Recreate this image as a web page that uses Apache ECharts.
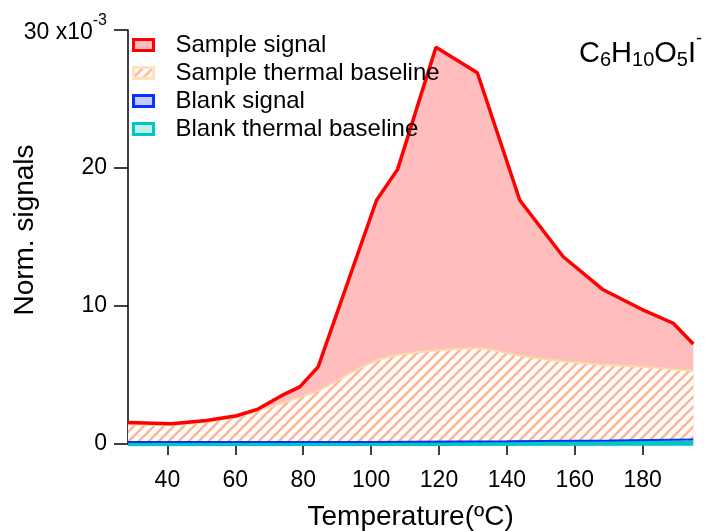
<!DOCTYPE html>
<html>
<head>
  <meta charset="UTF-8" />
  <title></title>
  <style type="text/css">
    * {
      margin: 0;
      padding: 0;
    }
    #main {
      width: 708px;
      height: 531px;
      background-color: #fff;
    }
  </style>
</head>
<body>
  <div id="main"></div>
</body>
<script src="https://cdn.jsdelivr.net/npm/echarts@6.0.0/dist/echarts.min.js"></script>
<script type="text/javascript">
  // 读图得到的数据 (x: 温度 ºC, y: x10^-3)
  let sampleT = [28.4, 41.2, 51.5, 60.4, 66.7, 73.6, 79.0, 84.4, 101.6, 107.8, 119.1, 131.3, 143.8, 156.6, 168.2, 179.7, 189.0, 194.9]
  let sampleSignal = [1.56, 1.47, 1.71, 2.05, 2.53, 3.5, 4.14, 5.59, 17.66, 19.9, 28.75, 26.9, 17.66, 13.57, 11.2, 9.76, 8.75, 7.25]
  let baseT = [28.4, 41.2, 51.5, 60.4, 66.7, 73.6, 79.0, 84.4, 90, 96, 101.6, 107.8, 119.1, 131.3, 143.8, 156.6, 168.2, 179.7, 194.9]
  let baseSignal = [1.4, 1.4, 1.6, 1.95, 2.4, 2.95, 3.4, 3.85, 4.6, 5.4, 6.05, 6.45, 6.77, 6.94, 6.4, 6.0, 5.75, 5.6, 5.3]
  let blankT = [28.4, 100, 140, 170, 194.9]
  let blankSignal = [0.15, 0.15, 0.2, 0.25, 0.32]
  let blankBaseT = [28.4, 110, 194.9]
  let blankBase = [0.02, 0.03, 0.05]
  let xTicks = [40, 60, 80, 100, 120, 140, 160, 180]
  let yTicks = [0, 10, 20, 30]

  let font = 'Liberation Sans'

  function pairs(xs, ys) {
    return xs.map((x, i) => [x, ys[i]])
  }

  // 斜线填充
  function hatch() {
    let c = document.createElement('canvas')
    c.width = 10
    c.height = 10
    let ctx = c.getContext('2d')
    ctx.fillStyle = '#fff'
    ctx.fillRect(0, 0, 10, 10)
    ctx.strokeStyle = '#FFB596'
    ctx.lineWidth = 2.5
    ctx.beginPath()
    ctx.moveTo(-2, 12); ctx.lineTo(12, -2)
    ctx.moveTo(-2, 2); ctx.lineTo(2, -2)
    ctx.moveTo(8, 12); ctx.lineTo(12, 8)
    ctx.stroke()
    return { image: c, repeat: 'repeat' }
  }
  let hatchFill = hatch()

  let txt = { fontFamily: font, color: '#000', fontWeight: 'normal' }

  let myChart = echarts.init(document.getElementById('main'))
  let option = {
    animation: false,
    backgroundColor: '#fff',
    textStyle: { fontFamily: font, color: '#000' },
    grid: { left: 128, right: 14.7, top: 30, bottom: 87, outerBoundsMode: 'none', containLabel: false },
    title: {
      // 下标用上padding压低, 上标用下padding抬高
      text: '{m|C}{s|6}{m|H}{s|10}{m|O}{s|5}{m|I}{p|-}',
      left: 579,
      top: 39,
      padding: 0,
      textStyle: {
        fontWeight: 'normal',
        rich: {
          m: Object.assign({ fontSize: 29, lineHeight: 30 }, txt),
          s: Object.assign({ fontSize: 20, lineHeight: 20, padding: [13, 0, 0, 0] }, txt),
          p: Object.assign({ fontSize: 18, lineHeight: 18, padding: [0, 0, 30, 0] }, txt)
        }
      }
    },
    legend: {
      orient: 'vertical',
      left: 132,
      top: 33,
      padding: 0,
      icon: 'rect',
      itemWidth: 20,
      itemHeight: 11,
      itemGap: 4,
      selectedMode: false,
      textStyle: { fontSize: 24, lineHeight: 24, color: '#000', fontFamily: font, padding: [0, 0, 0, 17] },
      data: [
        { name: 'Sample signal', itemStyle: { color: '#FFBDBD', borderColor: '#FF0000', borderWidth: 3 } },
        { name: 'Sample thermal baseline', itemStyle: { color: hatchFill, borderColor: '#FFE2BE', borderWidth: 3 } },
        { name: 'Blank signal', itemStyle: { color: '#C4CCFF', borderColor: '#0A32FF', borderWidth: 3 } },
        { name: 'Blank thermal baseline', itemStyle: { color: '#C0F0EE', borderColor: '#00C8C0', borderWidth: 3 } }
      ]
    },
    xAxis: {
      type: 'value',
      min: 28.4,
      max: 194.9,
      offset: 3,
      name: 'Temperature(ºC)',
      nameLocation: 'middle',
      nameGap: 56,
      nameMoveOverlap: false,
      nameTextStyle: { fontSize: 28, color: '#000', fontFamily: font },
      axisLine: { show: false },
      axisTick: { show: true, length: 11, customValues: xTicks, lineStyle: { color: '#000', width: 1.5 } },
      axisLabel: { customValues: xTicks, margin: 22, fontSize: 23, color: '#000', fontFamily: font },
      splitLine: { show: false }
    },
    yAxis: {
      type: 'value',
      min: 0,
      max: 30,
      interval: 10,
      name: 'Norm. signals',
      nameLocation: 'middle',
      nameGap: 89,
      nameMoveOverlap: false,
      nameTextStyle: { fontSize: 28, color: '#000', fontFamily: font, padding: [0, 0, 0, 14] },
      axisLine: { show: true, lineStyle: { color: '#000', width: 1.5 } },
      axisTick: { show: true, length: 14, customValues: yTicks, lineStyle: { color: '#000', width: 1.5 } },
      axisLabel: {
        customValues: yTicks,
        margin: 21,
        fontSize: 23,
        color: '#000',
        fontFamily: font,
        formatter: v => v === 30 ? '{n|30 x10}{sup|-3}' : v + '',
        rich: {
          n: Object.assign({ fontSize: 23, lineHeight: 23, padding: [6, 0, 0, 0] }, txt),
          sup: Object.assign({ fontSize: 16, lineHeight: 16, padding: [0, 0, 19, 0] }, txt)
        }
      },
      splitLine: { show: false }
    },
    series: [
      {
        name: 'Sample signal',
        type: 'line',
        symbol: 'none',
        z: 1,
        data: pairs(sampleT, sampleSignal),
        lineStyle: { width: 0, opacity: 0 },
        areaStyle: { color: '#FFBDBD', opacity: 1 }
      },
      {
        name: 'Sample thermal baseline',
        type: 'line',
        symbol: 'none',
        smooth: 0.3,
        z: 2,
        data: pairs(baseT, baseSignal),
        lineStyle: { color: '#FFD9A8', width: 2 },
        areaStyle: { color: hatchFill, opacity: 1 }
      },
      {
        name: 'Sample signal',
        type: 'line',
        symbol: 'none',
        z: 3,
        data: pairs(sampleT, sampleSignal),
        lineStyle: { color: '#FF0000', width: 3.5 }
      },
      {
        name: 'Blank thermal baseline',
        type: 'line',
        symbol: 'none',
        z: 4,
        data: pairs(blankBaseT, blankBase),
        lineStyle: { color: '#00C8C0', width: 5 }
      },
      {
        name: 'Blank signal',
        type: 'line',
        symbol: 'none',
        z: 5,
        data: pairs(blankT, blankSignal),
        lineStyle: { color: '#0A32FF', width: 2 }
      }
    ]
  }
  myChart.setOption(option)
</script>
</html>
